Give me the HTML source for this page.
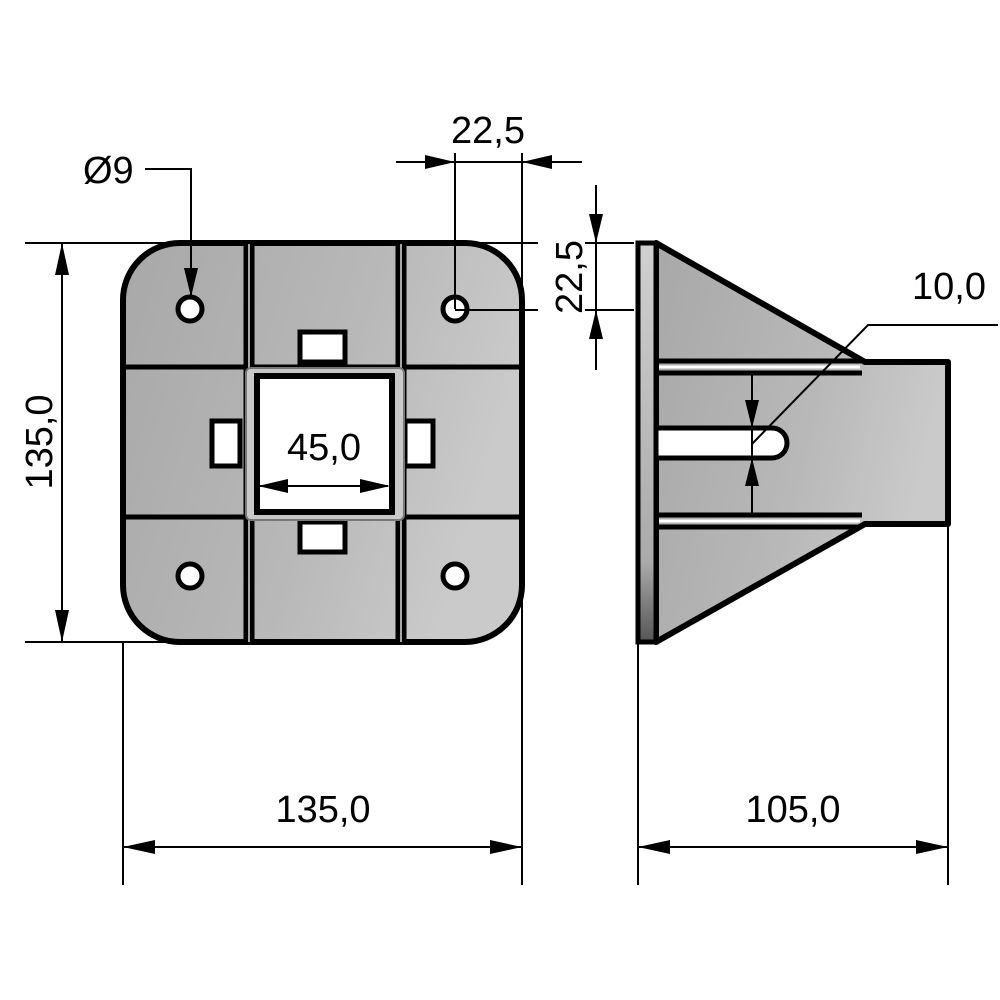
<!DOCTYPE html>
<html><head><meta charset="utf-8"><style>html,body{margin:0;padding:0;background:#fff}svg{display:block}</style></head>
<body>
<svg width="1000" height="1000" viewBox="0 0 1000 1000" xmlns="http://www.w3.org/2000/svg" font-family="Liberation Sans, sans-serif">
<defs>
<linearGradient id="g" x1="0" y1="0" x2="1" y2="0.3"><stop offset="0" stop-color="#a8a8a8"/><stop offset="0.6" stop-color="#b8b8b8"/><stop offset="1" stop-color="#cacaca"/></linearGradient>
<linearGradient id="fl" x1="0" y1="0" x2="0" y2="1"><stop offset="0" stop-color="#d0d0d0"/><stop offset="0.8" stop-color="#aaa"/><stop offset="1" stop-color="#555"/></linearGradient>
</defs>
<rect x="123" y="243" width="399" height="399" rx="57" fill="url(#g)" stroke="#000" stroke-width="6"/>
<g stroke="#000" stroke-width="5">
<line x1="246" y1="243" x2="246" y2="642"/><line x1="252" y1="243" x2="252" y2="642"/>
<line x1="398" y1="243" x2="398" y2="642"/><line x1="404" y1="243" x2="404" y2="642"/>
<line x1="123" y1="367" x2="522" y2="367"/><line x1="123" y1="517" x2="522" y2="517"/>
</g>
<g stroke="#ddd" stroke-width="1.5"><line x1="249" y1="243" x2="249" y2="642"/><line x1="401" y1="243" x2="401" y2="642"/></g>
<g fill="#fff" stroke="#000" stroke-width="5">
<rect x="300" y="332" width="45" height="30"/><rect x="300" y="522" width="45" height="30"/>
<rect x="212" y="421" width="28" height="45"/><rect x="405" y="421" width="28" height="45"/>
</g>
<rect x="246" y="368" width="158" height="152" rx="5" fill="#c8c8c8" stroke="#777" stroke-width="2"/>
<rect x="257" y="376" width="135" height="136" fill="#fff" stroke="#000" stroke-width="6"/>
<g fill="#fff" stroke="#000" stroke-width="5">
<circle cx="190" cy="309" r="12"/><circle cx="455" cy="309" r="12"/>
<circle cx="190" cy="576" r="12"/><circle cx="455" cy="576" r="12"/>
</g>
<polygon points="656,243 865,362 948,362 948,524 865,524 656,642" fill="url(#g)" stroke="#000" stroke-width="6" stroke-linejoin="round"/>
<rect x="638" y="243" width="18" height="399" fill="url(#fl)" stroke="#000" stroke-width="5"/>
<g stroke="#000" stroke-width="5" fill="none">
<path d="M656 361 H862 M656 373 H862"/><path d="M656 515 H862 M656 527 H862"/>
</g>
<g stroke="#fff" stroke-width="3"><line x1="659" y1="367" x2="860" y2="367"/><line x1="659" y1="521" x2="860" y2="521"/></g>
<path d="M656 428 H772 A15 15 0 0 1 772 458 H656 Z" fill="#fff" stroke="#000" stroke-width="5"/>
<g stroke="#000" stroke-width="2" fill="none">
<line x1="25" y1="243" x2="538" y2="243"/><line x1="585" y1="243" x2="634" y2="243"/>
<line x1="25" y1="642" x2="180" y2="642"/>
<line x1="62" y1="243" x2="62" y2="642"/>
<line x1="123" y1="642" x2="123" y2="885"/><line x1="522" y1="522" x2="522" y2="885"/>
<line x1="638" y1="642" x2="638" y2="885"/><line x1="948" y1="524" x2="948" y2="885"/>
<line x1="123" y1="847" x2="522" y2="847"/><line x1="638" y1="847" x2="948" y2="847"/>
<line x1="396" y1="162" x2="582" y2="162"/>
<line x1="455" y1="153" x2="455" y2="309"/><line x1="522" y1="153" x2="522" y2="300"/>
<line x1="455" y1="310" x2="538" y2="310"/><line x1="585" y1="310" x2="634" y2="310"/>
<line x1="596" y1="185" x2="596" y2="370"/>
<polyline points="145,169 191,169 191,297"/>
<polyline points="998,325 868,325 752,444"/>
<line x1="752" y1="372" x2="752" y2="515"/>
<line x1="260" y1="486" x2="388" y2="486"/>
</g>
<g fill="#000">
<polygon points="62,243 55,275 69,275"/><polygon points="62,642 55,610 69,610"/>
<polygon points="123,847 155,840 155,854"/><polygon points="522,847 490,840 490,854"/>
<polygon points="638,847 670,840 670,854"/><polygon points="948,847 916,840 916,854"/>
<polygon points="455,162 425,155 425,169"/><polygon points="522,162 552,155 552,169"/>
<polygon points="596,243 589,214 603,214"/><polygon points="596,310 589,339 603,339"/>
<polygon points="191,297 184,268 198,268"/>
<polygon points="752,428 745,400 759,400"/><polygon points="752,458 745,486 759,486"/>
<polygon points="258,486 288,479 288,493"/><polygon points="390,486 360,479 360,493"/>
</g>
<g font-size="38" fill="#000">
<text x="324" y="460" text-anchor="middle">45,0</text>
<text x="323" y="822" text-anchor="middle">135,0</text>
<text x="793" y="822" text-anchor="middle">105,0</text>
<text x="488" y="143" text-anchor="middle">22,5</text>
<text x="949" y="299" text-anchor="middle">10,0</text>
<text x="83" y="183">Ø9</text>
<text transform="translate(52,442) rotate(-90)" text-anchor="middle">135,0</text>
<text transform="translate(582,277) rotate(-90)" text-anchor="middle">22,5</text>
</g>
</svg>
</body></html>
